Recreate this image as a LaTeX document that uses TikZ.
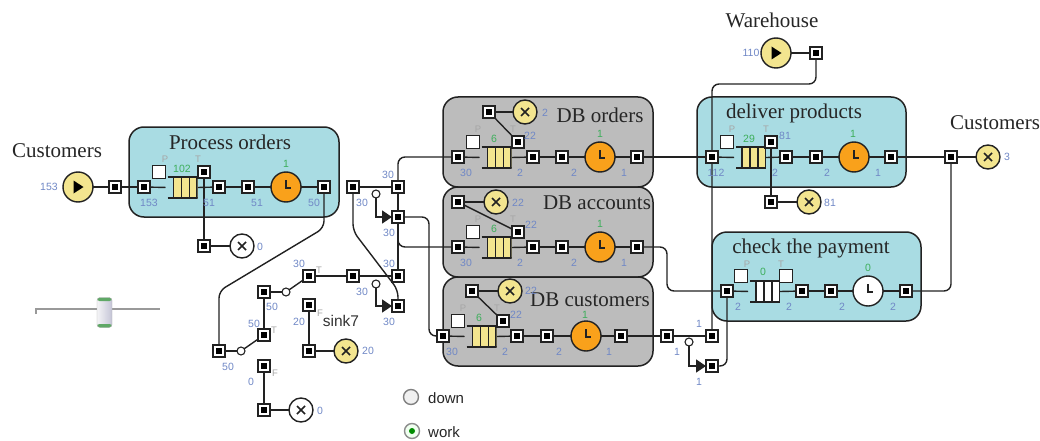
\documentclass[tikz,border=0pt]{standalone}
\usepackage{fontspec}
\setmainfont{Liberation Serif}
\setsansfont{Liberation Sans}
\usetikzlibrary{arrows.meta}
\pgfdeclarelayer{bg}\pgfdeclarelayer{edges}
\pgfsetlayers{bg,edges,main}
\definecolor{ln}{HTML}{222222}
\definecolor{cyanbox}{HTML}{A9DCE3}
\definecolor{greybox}{HTML}{BCBCBC}
\definecolor{yel}{HTML}{F3E58F}
\definecolor{org}{HTML}{F9A11B}
\definecolor{blu}{HTML}{7088C6}
\definecolor{grn}{HTML}{3DAE5B}
\definecolor{gry}{HTML}{A6A6A6}
\definecolor{thumbl}{HTML}{F4F4F6}
\definecolor{thumbr}{HTML}{C4C4D6}
\definecolor{thumbg}{HTML}{5FA866}
\newcounter{labc}
\tikzset{
  x=1pt,y=-1pt,
  porta/.style={draw=ln,line width=1.4pt,fill=white,rectangle,minimum size=12pt,inner sep=0pt,outer sep=0pt,
    path picture={\fill[black] ([shift={(-3pt,-3pt)}]path picture bounding box.center) rectangle ++(6pt,6pt);}},
  sq/.style={draw=ln,line width=1.2pt,fill=white,rectangle,minimum size=12.5pt,inner sep=0pt},
  sw/.style={draw=ln,line width=1.1pt,fill=white,circle,minimum size=8pt,inner sep=0pt,outer sep=0pt},
  srcn/.style={draw=ln,line width=1.4pt,fill=yel,circle,minimum size=30pt,inner sep=0pt,outer sep=0pt,
    path picture={\fill[black] ([shift={(-4.5pt,-6.5pt)}]path picture bounding box.center) -- ++(10pt,6.5pt) -- ++(-10pt,6.5pt) -- cycle;}},
  snkbase/.style={draw=ln,line width=1.4pt,circle,minimum size=24pt,inner sep=0pt,outer sep=0pt,
    path picture={\draw[ln,line width=1.6pt] ([shift={(-4pt,-4pt)}]path picture bounding box.center) -- ++(8pt,8pt)
       ([shift={(-4pt,4pt)}]path picture bounding box.center) -- ++(8pt,-8pt);}},
  clkn/.style={draw=ln,line width=1.4pt,circle,minimum size=30pt,inner sep=0pt,outer sep=0pt,
    path picture={\draw[ln,line width=1.2pt] ([shift={(0pt,7pt)}]path picture bounding box.center) -- ([shift={(0pt,-1pt)}]path picture bounding box.center) -- ([shift={(5pt,-1pt)}]path picture bounding box.center);}},
  boxn/.style={draw=ln,line width=1.5pt,rectangle,rounded corners=15pt,inner sep=0pt},
  title/.style={font=\fontsize{21}{23}\selectfont,text=black!85,inner sep=0pt},
  nblue/.style={font=\sffamily\fontsize{10.5}{12}\selectfont,text=blu,inner sep=0pt},
  ngreen/.style={font=\sffamily\fontsize{10.5}{12}\selectfont,text=grn,inner sep=0pt},
  ngrey/.style={font=\sffamily\fontsize{9.5}{11}\selectfont,text=gry,inner sep=0pt},
  edge/.style={draw=ln,line width=1.4pt},
  bent/.style={edge,rounded corners=7pt},
  tip/.style={edge,-{Triangle[length=10pt,width=13pt]}},
}
\newcommand{\prt}[3]{\node[porta] (#1) at (#2,#3) {};}
\newcommand{\src}[3]{\node[srcn] (#1) at (#2,#3) {};}
\newcommand{\snk}[4]{\node[snkbase,fill=#4] (#1) at (#2,#3) {};}
\newcommand{\clk}[4]{\node[clkn,fill=#4] (#1) at (#2,#3) {};}
\newcommand{\lab}[4]{\stepcounter{labc}\node[#1] (lab\thelabc) at (#2,#3) {#4};}
% queue centre x,y ; fill
\newcommand{\que}[4]{\node[rectangle,minimum width=30pt,minimum height=23pt,inner sep=0pt,outer sep=0pt,
   path picture={\begin{scope}[shift={(path picture bounding box.center)},x=1pt,y=1pt]
     \fill[#4] (-9,-10) rectangle (15,10);
     \draw[ln,line width=1.3pt] (-15,10.5) -- (15,10.5) (-15,-10.5) -- (15,-10.5);
     \draw[ln,line width=1.3pt] (-9,-10.5) -- (-9,10.5) (-1,-10.5) -- (-1,10.5) (7,-10.5) -- (7,10.5) (14.6,-10.5) -- (14.6,10.5);
   \end{scope}}] (#1) at (#2,#3) {};}
\newcommand{\cn}[2]{\draw[edge] (#1.center) -- (#2.center);}
\begin{document}
\begin{tikzpicture}
\useasboundingbox (0,0) rectangle (1040,441);
% ---------- boxes
\begin{pgfonlayer}{bg}
\node[boxn,fill=cyanbox,minimum width=210pt,minimum height=90pt] (bProc) at (234,172) {};
\node[boxn,fill=greybox,minimum width=210pt,minimum height=90pt] (bOrd) at (548,142) {};
\node[boxn,fill=greybox,minimum width=210pt,minimum height=90pt] (bAcc) at (548,232) {};
\node[boxn,fill=greybox,minimum width=210pt,minimum height=89pt] (bCus) at (548,321.5) {};
\node[boxn,fill=cyanbox,minimum width=209pt,minimum height=90pt] (bDel) at (801.5,142) {};
\node[boxn,fill=cyanbox,minimum width=209pt,minimum height=89pt] (bChk) at (816.5,276.5) {};
\end{pgfonlayer}
% ---------- titles
\node[title] (tC1) at (57,151) {Customers};
\node[title] (tW) at (772,20) {Warehouse};
\node[title] (tC2) at (995,123) {Customers};
\node[title] (tProc) at (230,142) {Process orders};
\node[title] (tOrd) at (600,115) {DB orders};
\node[title] (tAcc) at (597,203) {DB accounts};
\node[title] (tCus) at (590,300) {DB customers};
\node[title] (tDel) at (794,113) {deliver products};
\node[title] (tChk) at (811,248) {check the payment};
\node[font=\sffamily\fontsize{15.5}{18}\selectfont,text=black!80,inner sep=0pt] (tSink) at (341,321) {sink7};
% ---------- process orders
\src{s1}{78}{187}
\prt{a1}{115}{187}\prt{a2}{144}{187}
\que{q1}{182.5}{187.5}{yel}
\node[sq] (pq1) at (159,172) {};
\prt{tq1}{204}{172}
\prt{a4}{219}{187}\prt{a5}{248}{187}
\clk{c1}{286}{187}{org}
\prt{a6}{324}{187}
\prt{sa}{204}{246}\snk{xa}{242}{246}{white}
% ---------- switch network
\prt{p7}{219}{351}\node[sw] (sw1) at (241,351) {};
\prt{p8}{264}{335}\prt{p9}{264}{292}\node[sw] (sw2) at (286,292) {};
\prt{p10}{309}{276}\prt{p11}{353}{276}\prt{p12}{398}{276}
\prt{p13}{264}{366}\prt{p14}{264}{410}\snk{x14}{301}{410}{white}
\prt{p15}{309}{305}\prt{p16}{309}{351}\snk{x16}{346}{351}{yel}
\prt{p17}{353}{187}\prt{p18}{398}{187}
\node[sw] (sw3) at (376,194) {};\prt{p20}{398}{217}
\node[sw] (sw4) at (376,284) {};\prt{p19}{398}{306}
% ---------- DB orders
\prt{o1}{458}{157}\que{qo}{496.5}{157.5}{yel}
\node[sq] (po) at (473,142) {};\prt{to}{518}{142}
\prt{ox}{489}{112}\snk{xo}{525}{112}{yel}
\prt{o3}{533}{157}\prt{o4}{562}{157}\clk{co}{600}{157}{org}\prt{o5}{637}{157}
% ---------- DB accounts
\prt{b1}{458}{247}\que{qb}{496.5}{247.5}{yel}
\node[sq] (pb) at (473,232) {};\prt{tb}{518}{232}
\prt{bx}{458}{202}\snk{xb}{496}{202}{yel}
\prt{b3}{533}{247}\prt{b4}{562}{247}\clk{cb}{600}{247}{org}\prt{b5}{637}{247}
% ---------- DB customers
\prt{d1}{443}{336}\que{qd}{481.5}{336.5}{yel}
\node[sq] (pd) at (458,321) {};\prt{td}{503}{321}
\prt{dx}{472}{291}\snk{xd}{510}{291}{yel}
\prt{d3}{517}{336}\prt{d4}{547}{336}\clk{cd}{586}{336}{org}\prt{d5}{621}{336}
\prt{d6}{667}{336}\prt{d7}{712}{336}
\node[sw] (sw5) at (689,342) {};\prt{d8}{712}{366}
% ---------- deliver products
\src{s2}{776}{53}\prt{w1}{816}{53}
\prt{e1}{712}{157}\que{qe}{751}{157.5}{yel}
\node[sq] (pe) at (727,142) {};\prt{te}{771}{142}
\prt{e3}{786}{157}\prt{e4}{816}{157}\clk{ce}{854}{157}{org}\prt{e5}{891}{157}
\prt{e6}{951}{157}\snk{xe}{988}{157}{yel}
\prt{ex}{771}{202}\snk{xf}{809}{202}{yel}
% ---------- check the payment
\prt{f1}{727}{291}\que{qf}{765}{291.5}{white}
\node[sq] (pf) at (741,276) {};\node[sq] (tf) at (786,276) {};
\prt{f3}{802}{291}\prt{f4}{831}{291}\clk{cf}{868}{291}{white}\prt{f5}{906}{291}
% ---------- free bends
\coordinate (bA) at (429,280);
\coordinate (j1) at (398,238);
\coordinate (bB) at (667,270);
\coordinate (bC) at (727,330);
\coordinate (dA) at (324,228);
\coordinate (dB) at (219,291);
\coordinate (dC) at (353,231);
\coordinate (dD) at (398,290);
\coordinate (uA) at (712,84);
% ---------- connectors
\begin{pgfonlayer}{edges}
\cn{s1}{a1}\cn{a1}{a2}
\draw[edge,shorten >=2pt] (a2.center) -- (q1.west);
\draw[edge] (q1.east) -- (a4.center);
\cn{a4}{a5}\cn{a5}{c1}\cn{c1}{a6}
\cn{tq1}{sa}\cn{sa}{xa}
\draw[bent] (a6.center) -- (dA) -- (dB) -- (p7.center);
\cn{p7}{sw1}\cn{sw1}{p8}\cn{p8}{p9}\cn{p9}{sw2}\cn{sw2}{p10}\cn{p10}{p11}\cn{p11}{p12}
\cn{p13}{p14}\cn{p14}{x14}
\cn{p15}{p16}\cn{p16}{x16}
\cn{p17}{p18}\cn{p18}{p12}
\draw[bent] (p17.center) -- (dC) -- (dD) -- (p19.center);
\draw[tip] (sw3.south) |- (p20.west);
\draw[tip] (sw4.south) |- (p19.west);
\draw[bent] (p18.center) |- (o1.center);
\draw[bent] (p20.center) -| (bA) |- (d1.center);
\draw[bent] (j1) |- (b1.center);
% DB orders
\draw[edge,shorten >=2pt] (o1.center) -- (qo.west);
\draw[edge] (qo.east) -- (o3.center);
\cn{o3}{o4}\cn{o4}{co}\cn{co}{o5}\cn{o5}{e1}
\cn{ox}{xo}\cn{ox}{to}
% DB accounts
\draw[edge,shorten >=2pt] (b1.center) -- (qb.west);
\draw[edge] (qb.east) -- (b3.center);
\cn{b3}{b4}\cn{b4}{cb}\cn{cb}{b5}
\cn{bx}{xb}\cn{bx}{tb}
\draw[bent] (b5.center) -| (bB) |- (f1.center);
% DB customers
\draw[edge,shorten >=2pt] (d1.center) -- (qd.west);
\draw[edge] (qd.east) -- (d3.center);
\cn{d3}{d4}\cn{d4}{cd}\cn{cd}{d5}\cn{d5}{d6}\cn{d6}{d7}
\cn{dx}{xd}\cn{dx}{td}
\draw[tip] (sw5.south) |- (d8.west);
\draw[bent] (d8.center) -| (bC) -- (f1.center);
\draw[bent] (d7.center) -- (uA) -| (w1.center);
% deliver
\cn{s2}{w1}
\draw[edge,shorten >=2pt] (e1.center) -- (qe.west);
\draw[edge] (qe.east) -- (e3.center);
\cn{e3}{e4}\cn{e4}{ce}\cn{ce}{e5}\cn{e5}{e6}\cn{e6}{xe}
\cn{te}{ex}\cn{ex}{xf}
\draw[bent] (e6.center) |- (f5.center);
% check
\draw[edge,shorten >=2pt] (f1.center) -- (qf.west);
\draw[edge] (qf.east) -- (f3.center);
\cn{f3}{f4}\cn{f4}{cf}\cn{cf}{f5}
\end{pgfonlayer}
% ---------- numbers
\lab{nblue}{49}{187}{153}\lab{nblue}{149}{203}{153}\lab{nblue}{209}{203}{51}\lab{nblue}{257}{203}{51}\lab{nblue}{314}{203}{50}
\lab{ngreen}{182}{169}{102}\lab{ngreen}{286}{164}{1}
\lab{ngrey}{165}{159}{P}\lab{ngrey}{198}{159}{T}\lab{nblue}{260}{247}{0}
\lab{nblue}{299}{264}{30}\lab{ngrey}{319}{270}{T}\lab{nblue}{272}{307}{50}\lab{nblue}{254}{324}{50}\lab{ngrey}{274}{330}{T}\lab{nblue}{228}{367}{50}
\lab{ngrey}{275}{373}{F}\lab{nblue}{251}{382}{0}\lab{nblue}{320}{411}{0}
\lab{ngrey}{320}{313}{F}\lab{nblue}{299}{322}{20}\lab{nblue}{368}{351}{20}
\lab{nblue}{388}{175}{30}\lab{nblue}{362}{203}{30}\lab{nblue}{389}{233}{30}\lab{nblue}{389}{264}{30}\lab{nblue}{362}{292}{30}\lab{nblue}{389}{322}{30}
% DB orders
\lab{ngrey}{478}{129}{P}\lab{ngrey}{513}{129}{T}\lab{ngreen}{494}{139}{6}\lab{nblue}{530}{136}{22}\lab{nblue}{545}{113}{2}
\lab{ngreen}{600}{134}{1}\lab{nblue}{466}{173}{30}\lab{nblue}{520}{173}{2}\lab{nblue}{574}{173}{2}\lab{nblue}{624}{173}{1}
% DB accounts
\lab{ngrey}{478}{219}{P}\lab{ngrey}{513}{219}{T}\lab{ngreen}{494}{229}{6}\lab{nblue}{531}{225}{22}\lab{nblue}{518}{203}{22}
\lab{ngreen}{600}{224}{1}\lab{nblue}{466}{263}{30}\lab{nblue}{520}{263}{2}\lab{nblue}{574}{263}{2}\lab{nblue}{624}{263}{1}
% DB customers
\lab{ngrey}{463}{308}{P}\lab{ngrey}{497}{308}{T}\lab{ngreen}{479}{318}{6}\lab{nblue}{516}{315}{22}\lab{nblue}{531}{291}{22}
\lab{ngreen}{585}{315}{1}\lab{nblue}{452}{352}{30}\lab{nblue}{505}{352}{2}\lab{nblue}{559}{352}{2}\lab{nblue}{609}{352}{1}
\lab{nblue}{699}{324}{1}\lab{nblue}{677}{352}{1}\lab{nblue}{699}{382}{1}
% deliver
\lab{nblue}{751}{53}{110}\lab{ngrey}{732}{129}{P}\lab{ngrey}{766}{129}{T}\lab{ngreen}{749}{139}{29}\lab{nblue}{785}{136}{81}
\lab{ngreen}{853}{134}{1}\lab{nblue}{716}{173}{112}\lab{nblue}{775}{173}{2}\lab{nblue}{827}{173}{2}\lab{nblue}{878}{173}{1}
\lab{nblue}{1007}{157}{3}\lab{nblue}{830}{203}{81}
% check
\lab{ngrey}{747}{264}{P}\lab{ngrey}{781}{264}{T}\lab{ngreen}{763}{272}{0}\lab{ngreen}{868}{268}{0}
\lab{nblue}{738}{307}{2}\lab{nblue}{789}{307}{2}\lab{nblue}{842}{307}{2}\lab{nblue}{893}{307}{2}
% ---------- slider
\coordinate (slA) at (36,309);
\coordinate (slB) at (160,309);
\coordinate (slC) at (36,314);
\draw[line width=1.2pt,draw=black!40] (slC) -- (slA) -- (slB);
\node[rectangle,rounded corners=3pt,minimum width=15pt,minimum height=30pt,inner sep=0pt,
   left color=thumbl,right color=thumbr,draw=black!30,
   path picture={\fill[thumbg] ([shift={(-8pt,-15pt)}]path picture bounding box.center) rectangle ++(16pt,3.5pt);
                 \fill[thumbg] ([shift={(-8pt,11.5pt)}]path picture bounding box.center) rectangle ++(16pt,3.5pt);}] (thumb) at (104.5,312.5) {};
% ---------- radios
\node[circle,draw=black!50,line width=1.4pt,fill=black!6,minimum size=15pt,inner sep=0pt] (rd) at (411,397) {};
\node[circle,draw=black!45,line width=1.4pt,fill=green!6,minimum size=15pt,inner sep=0pt,
   path picture={\fill[green!55!black] (path picture bounding box.center) circle[radius=3pt];}] (rw) at (412,431) {};
\node[anchor=west,font=\sffamily\fontsize{15}{17}\selectfont,text=black!85,inner sep=0pt] (rdt) at (428,398) {down};
\node[anchor=west,font=\sffamily\fontsize{15}{17}\selectfont,text=black!85,inner sep=0pt] (rwt) at (428,432) {work};
\end{tikzpicture}
\end{document}
